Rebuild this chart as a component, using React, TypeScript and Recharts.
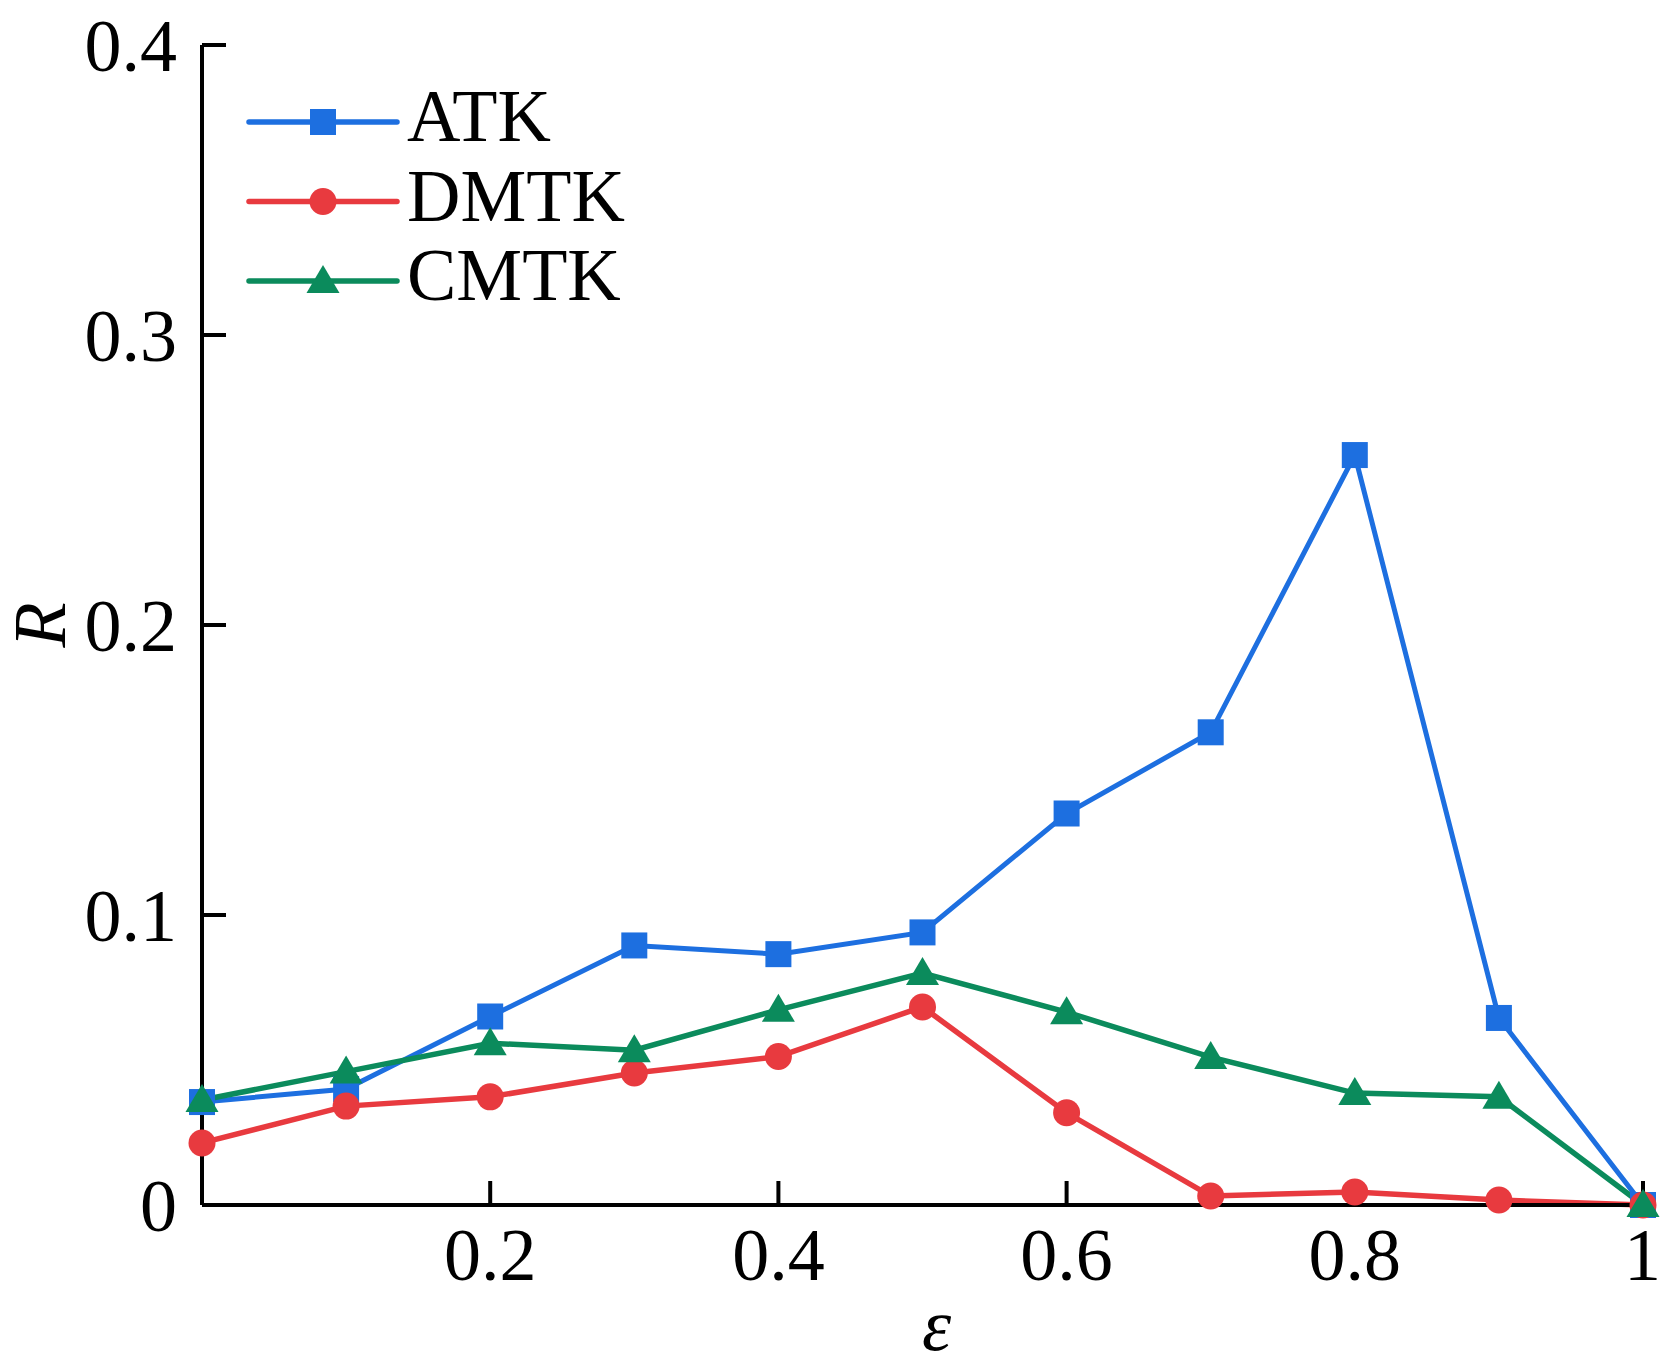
import { LineChart, Line, XAxis, YAxis, Legend } from "recharts";

// epsilon values along the x axis
const epsilon = [0, 0.1, 0.2, 0.3, 0.4, 0.5, 0.6, 0.7, 0.8, 0.9, 1];

// R values
const atk = [0.0355, 0.04, 0.065, 0.0895, 0.0865, 0.094, 0.135, 0.163, 0.2586, 0.0645, 0];
const dmtk = [0.0214, 0.0341, 0.0373, 0.0455, 0.0512, 0.0683, 0.0318, 0.0031, 0.0045, 0.0017, 0];
const cmtk = [0.0362, 0.046, 0.0558, 0.0534, 0.0673, 0.08, 0.0665, 0.051, 0.0386, 0.0373, 0];

const xTicks = [0.2, 0.4, 0.6, 0.8, 1];
const yTicks = [0, 0.1, 0.2, 0.3, 0.4];

const chartData = epsilon.map((eps, i) => ({
  eps,
  atk: atk[i],
  dmtk: dmtk[i],
  cmtk: cmtk[i],
}));

const FONT = '"Liberation Serif", "Times New Roman", serif';

const SERIES = [
  { key: "atk", name: "ATK", color: "#1d6fe0", shape: "square", width: 5 },
  { key: "dmtk", name: "DMTK", color: "#e83a3f", shape: "circle", width: 5.5 },
  { key: "cmtk", name: "CMTK", color: "#0b8b5c", shape: "triangle", width: 5.5 },
];

function Marker({ shape, cx, cy, color }: { shape: string; cx: number; cy: number; color: string }) {
  if (shape === "square") {
    return <rect x={cx - 13} y={cy - 13} width={26} height={26} fill={color} />;
  }
  if (shape === "circle") {
    return <circle cx={cx} cy={cy} r={13.5} fill={color} />;
  }
  return (
    <polygon
      points={`${cx},${cy - 16} ${cx - 16.5},${cy + 12} ${cx + 16.5},${cy + 12}`}
      fill={color}
    />
  );
}

function LegendBox() {
  return (
    <svg width={420} height={250} style={{ display: "block" }}>
      {SERIES.map((s, i) => {
        const cy = 52 + i * 79.5;
        return (
          <g key={s.key}>
            <line x1={9} x2={157} y1={cy} y2={cy} stroke={s.color} strokeWidth={5.5} strokeLinecap="round" />
            <Marker shape={s.shape} cx={83} cy={cy} color={s.color} />
            <text x={167} y={cy + 19} fontFamily={FONT} fontSize={74} fill="#000">
              {s.name}
            </text>
          </g>
        );
      })}
    </svg>
  );
}

export default function App() {
  const tickStyle = { fontFamily: FONT, fontSize: 74, fill: "#000" };
  const axisStroke = { stroke: "#000", strokeWidth: 4 };

  return (
    <div style={{ width: 1661, height: 1372, background: "#fff" }}>
      <style>{"body{margin:0}"}</style>
      <LineChart
        width={1661}
        height={1372}
        data={chartData}
        margin={{ top: 45, right: 18, bottom: 0, left: 0 }}
      >
        <XAxis
          dataKey="eps"
          type="number"
          domain={[0, 1]}
          ticks={xTicks}
          tickFormatter={(v) => String(v)}
          height={167}
          tick={tickStyle}
          axisLine={axisStroke}
          tickLine={axisStroke}
          tickSize={-24}
          tickMargin={46}
          label={{
            content: ({ viewBox }: any) => (
              <text
                x={viewBox.x + viewBox.width / 2 + 14}
                y={viewBox.y + 145}
                textAnchor="middle"
                fontFamily={FONT}
                fontStyle="italic"
                fontSize={74}
                fill="#000"
              >
                ε
              </text>
            ),
          }}
        />
        <YAxis
          type="number"
          domain={[0, 0.4]}
          ticks={yTicks}
          tickFormatter={(v) => String(v)}
          width={202}
          tick={tickStyle}
          axisLine={axisStroke}
          tickLine={axisStroke}
          tickSize={-24}
          tickMargin={49}
          label={{
            content: ({ viewBox }: any) => {
              const x = viewBox.x + 40;
              const y = viewBox.y + viewBox.height / 2;
              return (
                <text
                  x={x}
                  y={y}
                  transform={`rotate(-90 ${x} ${y})`}
                  textAnchor="middle"
                  dominantBaseline="central"
                  fontFamily={FONT}
                  fontStyle="italic"
                  fontSize={74}
                  fill="#000"
                >
                  R
                </text>
              );
            },
          }}
        />
        <Legend
          layout="vertical"
          align="center"
          verticalAlign="middle"
          wrapperStyle={{ left: 240, top: 70, width: 420, height: 250 }}
          content={() => <LegendBox />}
        />
        {SERIES.map((s) => (
          <Line
            key={s.key}
            dataKey={s.key}
            name={s.name}
            type="linear"
            stroke={s.color}
            strokeWidth={s.width}
            isAnimationActive={false}
            dot={(props: any) => (
              <Marker
                key={`${s.key}-${props.index}`}
                shape={s.shape}
                cx={props.cx}
                cy={props.cy}
                color={s.color}
              />
            )}
            activeDot={false}
          />
        ))}
      </LineChart>
    </div>
  );
}
